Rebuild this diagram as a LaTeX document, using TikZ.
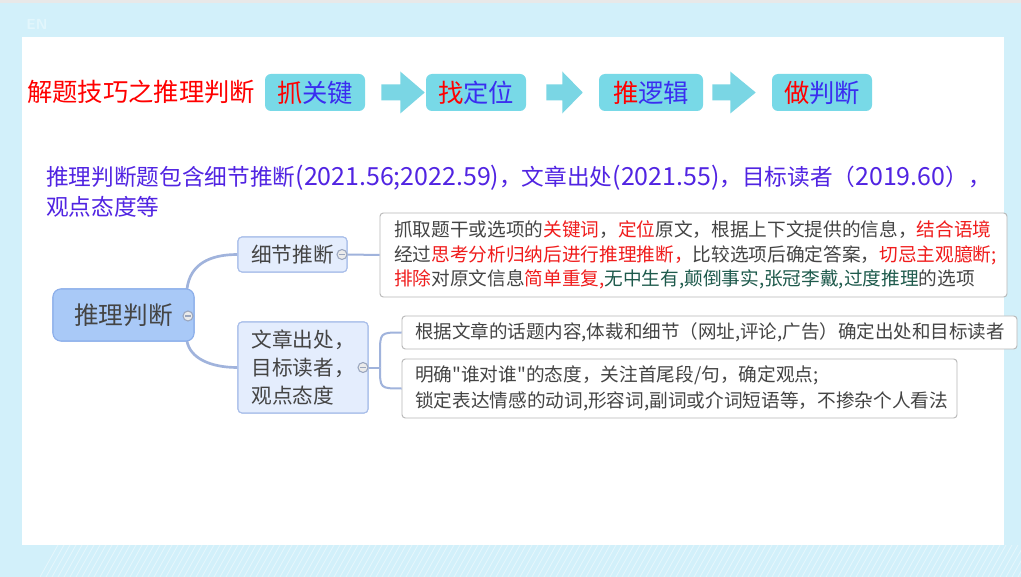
\documentclass[tikz,border=0pt]{standalone}
\usepackage{fontspec}
\setmainfont{Noto Sans CJK SC}
\newfontfamily\plainfont{Noto Sans CJK SC}
\usetikzlibrary{calc}
\definecolor{bg}{HTML}{D2F0FA}
\definecolor{bgl}{HTML}{E2F6FC}
\definecolor{topgrey}{HTML}{E8E8E8}
\definecolor{hred}{HTML}{FF0000}
\definecolor{boxcyan}{HTML}{78D9E7}
\definecolor{arrowcyan}{HTML}{7AD6E4}
\definecolor{kblue}{HTML}{3A2DF0}
\definecolor{subblue}{HTML}{5124E2}
\definecolor{rootfill}{HTML}{A9C9F7}
\definecolor{rootdraw}{HTML}{8DAFEA}
\definecolor{lfill}{HTML}{E4EDFD}
\definecolor{ldraw}{HTML}{AABFEA}
\definecolor{linkc}{HTML}{A0B3DC}
\definecolor{txt}{HTML}{444444}
\definecolor{dred}{HTML}{F01C1C}
\definecolor{dgreen}{HTML}{1E5A4C}
\definecolor{folddraw}{HTML}{9AA6BE}
\newcommand\redt[1]{\textcolor{dred}{#1}}
\newcommand\grnt[1]{\textcolor{dgreen}{#1}}
\newcommand\numt[1]{{\fontsize{18.7}{21}\selectfont #1}}
\newcommand\sq{{\plainfont"}}
\newcommand\kjarrow[5]{%
  \fill[arrowcyan] ($(#1.east)+(#3,-8)$) -- ($(#1.east)+(#4,-8)$) -- ($(#1.east)+(#4,-21)$)
    -- ($(#2.west)+(-#5,0)$) -- ($(#1.east)+(#4,21)$) -- ($(#1.east)+(#4,8)$)
    -- ($(#1.east)+(#3,8)$) -- cycle;}
\begin{document}
\begin{tikzpicture}[x=0.75pt,y=-0.75pt,
  topbox/.style={fill=boxcyan,rounded corners=4.5pt,minimum width=75pt,minimum height=27.75pt,inner sep=0pt,font=\fontsize{19}{22}\selectfont},
  rootnode/.style={fill=rootfill,draw=rootdraw,line width=0.8pt,rounded corners=6pt,minimum width=105.75pt,minimum height=39pt,inner sep=0pt,text=txt,font=\fontsize{18.5}{22}\selectfont},
  lnode/.style={fill=lfill,draw=ldraw,line width=0.8pt,rounded corners=3pt,inner sep=0pt,text=txt,font=\fontsize{15.5}{21}\selectfont},
  detail/.style={fill=white,draw=black!28,line width=0.7pt,rounded corners=2.5pt,inner ysep=0pt,align=left,text=txt},
  link/.style={draw=linkc,line width=2pt},
  slink/.style={draw=linkc,line width=1.5pt},
  fold/.style={circle,fill=black!8,draw=folddraw,line width=0.8pt,minimum size=7.5pt,inner sep=0pt,
    path picture={\draw[folddraw,line width=1.2pt] ([xshift=-2pt]path picture bounding box.center) -- ([xshift=2pt]path picture bounding box.center);}},
  subt/.style={anchor=west,inner sep=0pt,text=subblue,font=\fontsize{17}{21}\selectfont}]
\useasboundingbox (0,0) rectangle (1021,577);
% background
\fill[bg] (0,0) rectangle (1021,577);
\fill[topgrey] (0,0) rectangle (1021,3);
\begin{scope}
  \clip (40,545) rectangle (1021,577);
  \foreach \i in {0,6,...,1000} { \draw[white,opacity=0.45,line width=0.6pt] (40+\i,577) -- (58+\i,545); }
\end{scope}
\fill[white] (22,37) rectangle (1004,545);
\node[inner sep=0pt,text=bgl,font=\sffamily\bfseries\fontsize{11}{12}\selectfont] (en) at (37,24) {EN};

% title row
\node[anchor=west,inner sep=0pt,text=hred,font=\fontsize{19}{22}\selectfont] (title) at (27,92) {解题技巧之推理判断};
\node[topbox] (k1) at (315,92.5) {\textcolor{hred}{抓}\textcolor{kblue}{关键}};
\node[topbox] (k2) at (476,92.5) {\textcolor{hred}{找}\textcolor{kblue}{定位}};
\node[topbox,minimum width=78pt] (k3) at (651,92.5) {\textcolor{hred}{推}\textcolor{kblue}{逻辑}};
\node[topbox] (k4) at (822,92.5) {\textcolor{hred}{做}\textcolor{kblue}{判断}};
\kjarrow{k1}{k2}{16}{35}{1}
\kjarrow{k2}{k3}{20}{36}{16}
\kjarrow{k3}{k4}{9}{27}{16}

% subtitle
\node[subt] (sub1) at (46,178) {推理判断题包含细节推断\numt{(2021.56;2022.59)}，文章出处\numt{(2021.55)}，目标读者（\numt{2019.60}），};
\node[subt] (sub2) at (46,207) {观点态度等};

% mind map nodes
\coordinate (r1) at (187,289);
\coordinate (r2) at (187,341);
\coordinate (bj) at (380,367.5);
\node[rootnode] (root) at (123.5,315) {推理判断};
\node[lnode,minimum width=81.75pt,minimum height=26.25pt] (n1) at (292.5,254.5) {细节推断};
\node[lnode,minimum width=97.5pt,minimum height=68.25pt,align=left] (n2) at (303,367.5) {文章出处，\\目标读者，\\观点态度};

\node[detail,text width=449.25pt,inner xsep=10.5pt,minimum height=63pt,font=\fontsize{14}{18.5}\selectfont] (d1) at (693.5,255)
 {抓取题干或选项的\redt{关键词}，\redt{定位}原文，根据上下文提供的信息，\redt{结合语境}\\
  经过\redt{思考分析归纳后进行推理推断，}比较选项后确定答案，\redt{切忌主观臆断;}\\
  \redt{排除}对原文信息\redt{简单重复,}\grnt{无中生有,颠倒事实,张冠李戴,过度推理}的选项};
\node[detail,text width=441.75pt,inner xsep=9.75pt,minimum height=24.75pt,font=\fontsize{13.9}{19.5}\selectfont] (d2) at (709.5,332.5)
 {根据文章的话题内容,体裁和细节（网址,评论,广告）确定出处和目标读者};
\node[detail,text width=396.75pt,inner xsep=9.75pt,minimum height=44.25pt,font=\fontsize{14}{19.5}\selectfont] (d3) at (679.5,388.5)
 {明确\sq 谁对谁\sq 的态度，关注首尾段/句，确定观点;\\
  锁定表达情感的动词,形容词,副词或介词短语等，不掺杂个人看法};

% connectors
\draw[link] (r1) .. controls (190,264) and (210,254.5) .. (n1.west);
\draw[link] (r2) .. controls (190,358) and (210,367.5) .. (n2.west);
\draw[slink] (n1.east) -- (d1.west);
\draw[slink] (n2.east) -- (bj);
\draw[slink] (bj) -- (380,354) .. controls (380,332.5) .. (d2.west);
\draw[slink] (bj) .. controls (380,388.5) .. (d3.west);
% nodes again above connectors
\node[rootnode] at (root) {推理判断};
\node[lnode,minimum width=81.75pt,minimum height=26.25pt] at (n1) {细节推断};
\node[lnode,minimum width=97.5pt,minimum height=68.25pt,align=left] at (n2) {文章出处，\\目标读者，\\观点态度};

% fold markers
\node[fold] (f0) at (188,316) {};
\node[fold] (f1) at (342,254.5) {};
\node[fold] (f2) at (363,367.5) {};
\end{tikzpicture}
\end{document}
